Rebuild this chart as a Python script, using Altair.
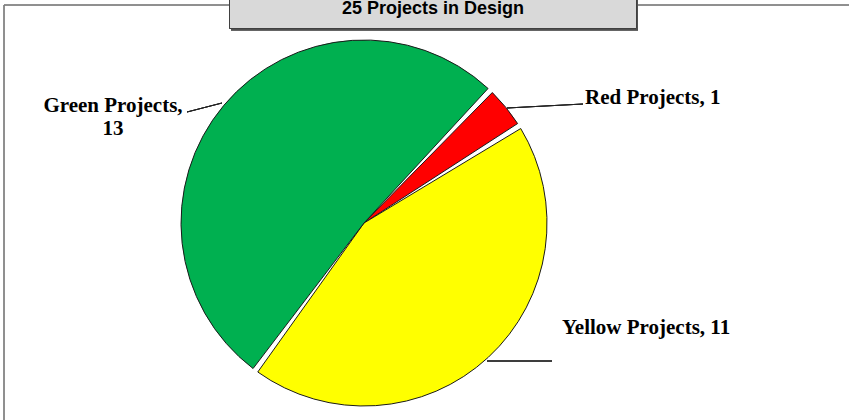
import math
import altair as alt
import pandas as pd

# ---- data ----
categories = ["Red Projects", "Yellow Projects", "Green Projects"]
counts = [1, 11, 13]
colors = ["#ff0000", "#ffff00", "#00b050"]
title_text = "25 Projects in Design"

df = pd.DataFrame({
    "category": categories,
    "count": counts,
    "order": list(range(len(categories))),
})
df["label"] = [f"{c}, {n}" for c, n in zip(categories, counts)]

start = math.radians(43.6)
CX, CY, R = 364, 223, 183

base = alt.Chart(df)

pie = base.mark_arc(
    radius=R, padAngle=0.032, stroke="#1a1a1a", strokeWidth=1
).encode(
    theta=alt.Theta("count:Q", stack=True,
                    scale=alt.Scale(range=[start, start + 2 * math.pi])),
    order=alt.Order("order:Q", sort="ascending"),
    color=alt.Color("category:N", legend=None,
                    scale=alt.Scale(domain=categories, range=colors)),
    x=alt.value(CX),
    y=alt.value(CY),
)

# frame lines
frame_top = base.mark_rule(color="#808080", strokeWidth=1).encode(
    x=alt.value(4), x2=alt.value(849), y=alt.value(5))
frame_left = base.mark_rule(color="#808080", strokeWidth=1).encode(
    x=alt.value(4), y=alt.value(5), y2=alt.value(420))

# title box with shadow
shadow = base.mark_rect(fill="#505050").encode(
    x=alt.value(231), x2=alt.value(638), y=alt.value(-2), y2=alt.value(30.5))
box = base.mark_rect(fill="#d9d9d9", stroke="#404040", strokeWidth=1).encode(
    x=alt.value(229.5), x2=alt.value(636.5), y=alt.value(-2), y2=alt.value(28.5))
title = alt.Chart(pd.DataFrame({"t": [title_text]})).mark_text(
    font="Liberation Sans", fontWeight="bold", fontSize=18,
    align="center", baseline="alphabetic", color="black"
).encode(text="t:N", x=alt.value(433), y=alt.value(14))

# leader lines
lead_style = dict(color="#222222", strokeWidth=1)
lead_red = base.mark_rule(**lead_style).encode(
    x=alt.value(507), y=alt.value(108), x2=alt.value(583), y2=alt.value(104))
lead_green = base.mark_rule(**lead_style).encode(
    x=alt.value(187), y=alt.value(112), x2=alt.value(222), y2=alt.value(103))
lead_yellow = base.mark_rule(**lead_style).encode(
    x=alt.value(487), y=alt.value(361), x2=alt.value(552), y2=alt.value(361))

label_style = dict(font="Liberation Serif", fontWeight="bold", fontSize=21,
                   baseline="alphabetic", color="black")

lab_red = base.transform_filter(alt.datum.category == "Red Projects").mark_text(
    align="left", **label_style
).encode(text="label:N", x=alt.value(585), y=alt.value(104))

lab_yellow = base.transform_filter(alt.datum.category == "Yellow Projects").mark_text(
    align="left", **label_style
).encode(text="label:N", x=alt.value(562), y=alt.value(334))

lab_green = base.transform_filter(alt.datum.category == "Green Projects").transform_calculate(
    label2="replace(datum.label, ', ', ',\\n')"
).mark_text(
    align="center", lineBreak="\n", lineHeight=23, **label_style
).encode(text="label2:N", x=alt.value(113), y=alt.value(112))

chart = alt.layer(
    frame_top, frame_left, pie, lead_red, lead_green, lead_yellow,
    lab_red, lab_yellow, lab_green, shadow, box, title
).properties(
    width=849, height=420, padding=0,
    autosize=alt.AutoSizeParams(type="none"),
    background="white",
).configure_view(stroke=None)

chart.save("out.html", embed_options={"renderer": "svg", "actions": False})
